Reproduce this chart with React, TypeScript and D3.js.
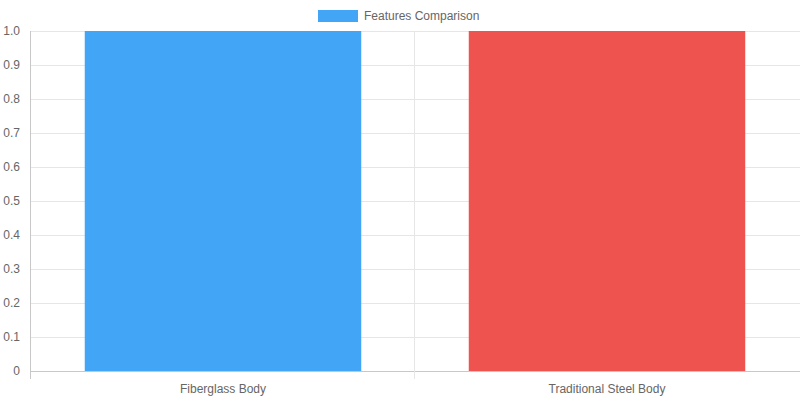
import { useEffect, useRef } from "react";
import * as d3 from "d3";

const categories = ["Fiberglass Body", "Traditional Steel Body"];
const values = [1, 1];
const barColors = ["#42A5F5", "#EF5350"];
const yTicks = [0, 0.1, 0.2, 0.3, 0.4, 0.5, 0.6, 0.7, 0.8, 0.9, 1.0];
const legendLabel = "Features Comparison";

const App = () => {
  const svgRef = useRef(null);

  useEffect(() => {
    const svg = d3.select(svgRef.current);
    svg.selectAll("*").remove();
    const width = 800;
    const height = 400;
    const margin = { top: 31, right: 1, bottom: 29, left: 31 };
    const font = "'Liberation Sans', Arial, sans-serif";

    const x = d3
      .scaleBand()
      .domain(categories)
      .range([margin.left, width - margin.right])
      .paddingInner(0)
      .paddingOuter(0);
    const y = d3
      .scaleLinear()
      .domain([0, 1])
      .range([height - margin.bottom, margin.top]);

    // horizontal grid
    svg
      .append("g")
      .selectAll("line")
      .data(yTicks)
      .enter()
      .append("line")
      .attr("x1", margin.left)
      .attr("x2", width)
      .attr("y1", (d) => Math.round(y(d)) + 0.5)
      .attr("y2", (d) => Math.round(y(d)) + 0.5)
      .attr("stroke", (d) => (d === 0 ? "#c8c8c8" : "#e6e6e6"))
      .attr("stroke-width", 1);

    // vertical grid at category boundaries (last one falls off the edge)
    const bounds = [margin.left, ...categories.slice(0, -1).map((c) => (x(c) as number) + x.bandwidth())];
    svg
      .append("g")
      .selectAll("line")
      .data(bounds)
      .enter()
      .append("line")
      .attr("x1", (d) => Math.round(d) - 0.5)
      .attr("x2", (d) => Math.round(d) - 0.5)
      .attr("y1", margin.top)
      .attr("y2", height - margin.bottom + 8)
      .attr("stroke", (d, i) => (i === 0 ? "#c8c8c8" : "#e6e6e6"))
      .attr("stroke-width", 1);

    // bars
    const barW = x.bandwidth() * 0.72;
    svg
      .append("g")
      .selectAll("rect")
      .data(values)
      .enter()
      .append("rect")
      .attr("x", (d, i) => (x(categories[i]) as number) + (x.bandwidth() - barW) / 2)
      .attr("y", (d) => y(d))
      .attr("width", barW)
      .attr("height", (d) => y(0) - y(d))
      .attr("fill", (d, i) => barColors[i]);

    // y labels
    svg
      .append("g")
      .selectAll("text")
      .data(yTicks)
      .enter()
      .append("text")
      .attr("x", 20)
      .attr("y", (d) => y(d))
      .attr("dy", "0.35em")
      .attr("text-anchor", "end")
      .attr("font-family", font)
      .attr("font-size", 12)
      .attr("fill", "#666")
      .text((d) => (d === 0 ? "0" : d.toFixed(1)));

    // x labels
    svg
      .append("g")
      .selectAll("text")
      .data(categories)
      .enter()
      .append("text")
      .attr("x", (d) => (x(d) as number) + x.bandwidth() / 2)
      .attr("y", 389)
      .attr("dy", "0.35em")
      .attr("text-anchor", "middle")
      .attr("font-family", font)
      .attr("font-size", 12)
      .attr("fill", "#666")
      .text((d) => d);

    // legend
    const legend = svg.append("g");
    legend
      .append("rect")
      .attr("x", 318)
      .attr("y", 10)
      .attr("width", 40)
      .attr("height", 12)
      .attr("fill", barColors[0]);
    legend
      .append("text")
      .attr("x", 364)
      .attr("y", 16)
      .attr("dy", "0.35em")
      .attr("font-family", font)
      .attr("font-size", 12)
      .attr("fill", "#666")
      .text(legendLabel);
  }, []);

  return (
    <svg
      ref={svgRef}
      width={800}
      height={400}
      style={{ display: "block", position: "absolute", left: 0, top: 0 }}
    ></svg>
  );
};

export default App;
